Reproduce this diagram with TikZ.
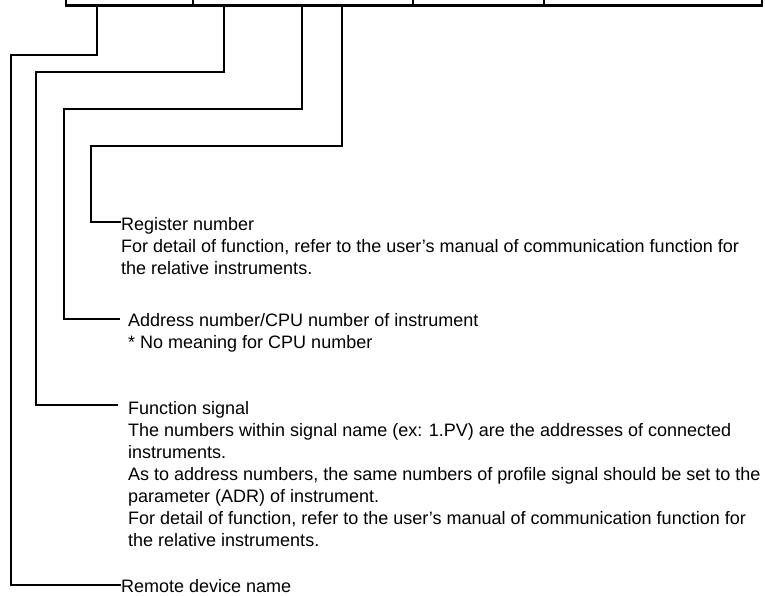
\documentclass[tikz,border=0pt]{standalone}
\usepackage{fontspec}
\setmainfont{Liberation Sans}
\begin{document}
\begin{tikzpicture}[x=1pt,y=-1pt,
  leader/.style={line width=1.1pt,line join=miter},
  desc/.style={inner sep=0pt,anchor=base west,
    font=\fontsize{18}{22}\selectfont}]
\useasboundingbox (0,0) rectangle (765,595);
\begin{scope}
\clip (0,0) rectangle (765,595);
% table row (cut off at top)
\draw[line width=2.6pt] (66,-30) rectangle (762,5.5);
\foreach \xx in {193,413,544} \draw[line width=1.2pt] (\xx,-30) -- (\xx,5.5);
\end{scope}
% taps on the table bottom
\coordinate (t1) at (97,6.5);
\coordinate (t2) at (224,6.5);
\coordinate (t3) at (302,6.5);
\coordinate (t4) at (342,6.5);
% bends
\coordinate (k1) at (11,55);
\coordinate (k2) at (36,72);
\coordinate (k3) at (64,109);
\coordinate (k4) at (91,146);
% texts
\node[desc] (reg) at (121,230) {Register number};
\foreach [count=\i] \l in {{For detail of function, refer to the user’s manual of communication function for},{the relative instruments.}}
  \node[desc] (reg-\i) at (121,{230+22*\i}) {\l};
\node[desc] (adr) at (128,326) {Address number/CPU number of instrument};
\node[desc] (adr-1) at (128,348) {* No meaning for CPU number};
\node[desc] (fun) at (128,414) {Function signal};
\foreach [count=\i] \l in {{The numbers within signal name (ex: 1.PV) are the addresses of connected},{instruments.},{As to address numbers, the same numbers of profile signal should be set to the},{parameter (ADR) of instrument.},{For detail of function, refer to the user’s manual of communication function for},{the relative instruments.}}
  \node[desc] (fun-\i) at (128,{414+22*\i}) {\l};
\node[desc] (rem) at (121,592) {Remote device name};
% leaders
\coordinate (e4) at (121,222);
\coordinate (e3) at (120,319);
\coordinate (e2) at (118,405);
\coordinate (e1) at (121,585);
\draw[leader] (t4) |- (k4) |- (e4);
\draw[leader] (t3) |- (k3) |- (e3);
\draw[leader] (t2) |- (k2) |- (e2);
\draw[leader] (t1) |- (k1) |- (e1);
\end{tikzpicture}
\end{document}
